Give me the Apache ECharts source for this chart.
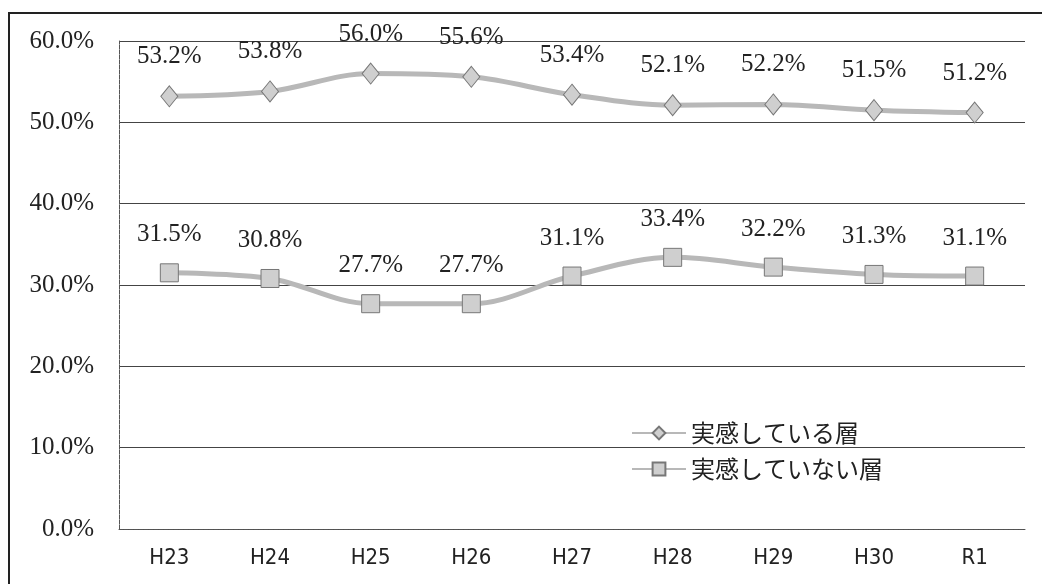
<!DOCTYPE html>
<html>
<head>
<meta charset="utf-8">
<script src="https://cdn.jsdelivr.net/npm/echarts@6/dist/echarts.min.js"></script>
<style>
  html, body { margin: 0; padding: 0; background: #fff; }
  .frame {
    position: absolute; left: 8px; top: 12px; width: 1100px; height: 700px;
    border-left: 2px solid #222; border-top: 2px solid #222;
  }
  #chart { position: absolute; left: 0; top: 0; width: 1042px; height: 584px; }
</style>
</head>
<body>
<div class="frame"></div>
<div id="chart"></div>
<script>
// 年度
const years = ["H23", "H24", "H25", "H26", "H27", "H28", "H29", "H30", "R1"];
// 実感している層 (%)
const feelYes = [53.2, 53.8, 56.0, 55.6, 53.4, 52.1, 52.2, 51.5, 51.2];
// 実感していない層 (%)
const feelNo = [31.5, 30.8, 27.7, 27.7, 31.1, 33.4, 32.2, 31.3, 31.1];

const serif = "'Liberation Serif', 'DejaVu Serif', serif";

const chart = echarts.init(document.getElementById("chart"));

function lineSeries(name, data, symbol, w, h) {
  return {
    name: name,
    type: "line",
    data: data,
    smooth: 0.35,
    symbol: symbol,
    symbolSize: [w, h],
    lineStyle: { color: "#b8b8b8", width: 5 },
    itemStyle: { color: "#cfcfcf", borderColor: "#777", borderWidth: 1 },
    label: {
      show: true,
      position: "top",
      distance: 16,
      color: "#222",
      fontFamily: serif,
      fontSize: 25,
      formatter: (p) => p.value.toFixed(1) + "%",
    },
  };
}

chart.setOption({
  animation: false,
  grid: { left: 119, right: 17, top: 41, bottom: 55 },
  legend: {
    orient: "vertical",
    left: 626,
    top: 416,
    itemGap: 12,
    itemWidth: 54,
    itemHeight: 16,
    textStyle: {
      color: "#222",
      fontSize: 24,
      fontFamily: "'Noto Sans CJK JP', sans-serif",
    },
    data: ["実感している層", "実感していない層"],
  },
  xAxis: {
    type: "category",
    data: years,
    axisTick: { show: false },
    axisLine: { lineStyle: { color: "#555", width: 1, type: [4, 1] } },
    axisLabel: {
      color: "#222",
      fontSize: 22,
      margin: 18,
      fontFamily: "'Liberation Sans Narrow', 'DejaVu Sans Condensed', sans-serif",
    },
  },
  yAxis: {
    type: "value",
    min: 0,
    max: 60,
    interval: 10,
    axisTick: { show: false },
    axisLine: { show: true, lineStyle: { color: "#555", width: 1, type: [4, 1] } },
    splitLine: { lineStyle: { color: "#444", width: 1 } },
    axisLabel: {
      color: "#222",
      fontSize: 25,
      margin: 25,
      fontFamily: serif,
      formatter: (v) => v.toFixed(1) + "%",
    },
  },
  series: [
    lineSeries("実感している層", feelYes, "diamond", 17, 21),
    lineSeries("実感していない層", feelNo, "rect", 18, 18),
  ],
});
</script>
</body>
</html>
